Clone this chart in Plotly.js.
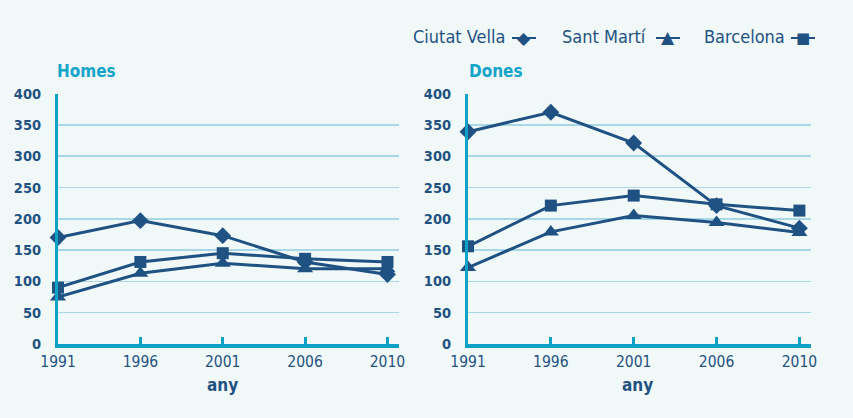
<!DOCTYPE html>
<html><head><meta charset="utf-8">
<script src="https://cdn.plot.ly/plotly-3.0.1.min.js"></script>
<style>html,body{margin:0;padding:0;background:#f1f8f8;}#chart{width:853px;height:418px;}</style>
</head><body><div id="chart"></div>
<script>
const years = ["1991","1996","2001","2006","2010"];
const seriesNames = ["Ciutat Vella","Sant Martí","Barcelona"];
const homesCiutatVella = [170,197,173,131,111];
const homesSantMarti   = [75,113,129,120,120];
const homesBarcelona   = [90,131,145,136,131];
const donesCiutatVella = [339,370,321,221,185];
const donesSantMarti   = [122,179,205,194,178];
const donesBarcelona   = [156,221,237,223,213];
const yTicks = [0,50,100,150,200,250,300,350,400];

const W = 853, H = 418;
const px = x => x / W, py = y => 1 - y / H;
const dark = "#1f5282", teal = "#0ea2c7", grid = "#a9d7e7";
const FONT = "'DejaVu Sans Condensed','Liberation Sans Narrow',sans-serif";
const symbols = ["diamond","triangle-up","square"];
const markerSizes = [13, 14, 12];

function mk(vals, i, xa, ya) {
  return {x: years, y: vals, xaxis: xa, yaxis: ya, type: "scatter", mode: "lines+markers",
    name: seriesNames[i], showlegend: false, cliponaxis: false,
    line: {color: dark, width: 3},
    marker: {symbol: symbols[i], size: markerSizes[i], color: dark}};
}
const data = [
  mk(homesCiutatVella,0,"x","y"), mk(homesSantMarti,1,"x","y"), mk(homesBarcelona,2,"x","y"),
  mk(donesCiutatVella,0,"x2","y2"), mk(donesSantMarti,1,"x2","y2"), mk(donesBarcelona,2,"x2","y2")
];

function xax(d, anchor) {
  return {domain: d, anchor: anchor, type: "category", range: [0, 4.14],
    showline: true, linecolor: teal, linewidth: 4, showgrid: false, zeroline: false,
    ticks: "inside", ticklen: 7, tickwidth: 3, tickcolor: teal,
    tickfont: {family: FONT, size: 15.5, color: dark}, fixedrange: true};
}
function yax(anchor) {
  return {domain: [py(344), py(93.5)], anchor: anchor, range: [0, 400],
    tickvals: yTicks, ticktext: yTicks.map(String),
    showline: true, linecolor: teal, linewidth: 3, showgrid: true, gridcolor: grid, gridwidth: 1.5,
    zeroline: false, ticks: "", ticklabelstandoff: 11,
    tickfont: {family: FONT, size: 14.5, color: dark, weight: "bold"}, fixedrange: true};
}

const ann = [];
function txt(t, x, y, xanchor, size, color, bold) {
  ann.push({text: bold ? "<b>" + t + "</b>" : t, xref: "paper", yref: "paper", x: px(x), y: py(y),
    xanchor: xanchor, yanchor: "middle", showarrow: false,
    font: {family: FONT, size: size, color: color}});
}
txt("Homes", 55, 71, "left", 17, "#13a4c9", true);
txt("Dones", 467, 71, "left", 17, "#13a4c9", true);
txt("any", 222, 385, "center", 17, dark, true);
txt("any", 637, 385, "center", 17, dark, true);
const legX = [507, 648, 787];
const legSym = [524, 668, 803];
const glyph = ["◆","▲","■"];
const glyphSize = [17, 17, 15];
const shapes = [];
for (let i = 0; i < 3; i++) {
  txt(seriesNames[i], legX[i], 37, "right", 18, dark, false);
  shapes.push({type: "line", xref: "paper", yref: "paper", x0: px(legSym[i]-12), x1: px(legSym[i]+12),
    y0: py(38), y1: py(38), line: {color: dark, width: 2}});
  ann.push({text: glyph[i], xref: "paper", yref: "paper", x: px(legSym[i]), y: py(i === 1 ? 37 : 38),
    xanchor: "center", yanchor: "middle", showarrow: false,
    font: {family: "DejaVu Sans", size: glyphSize[i], color: dark}});
}

const layout = {
  width: W, height: H, margin: {l: 0, r: 0, t: 0, b: 0},
  paper_bgcolor: "#f1f8f8", plot_bgcolor: "rgba(0,0,0,0)",
  xaxis: xax([px(58), px(399)], "y"), yaxis: yax("x"),
  xaxis2: xax([px(468), px(811)], "y2"), yaxis2: yax("x2"),
  annotations: ann, shapes: shapes, showlegend: false
};
Plotly.newPlot("chart", data, layout, {displayModeBar: false, staticPlot: true});
</script></body></html>
